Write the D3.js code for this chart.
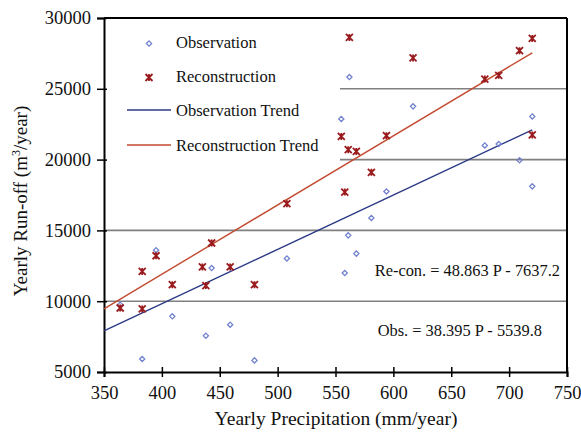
<!DOCTYPE html>
<html>
<head>
<meta charset="utf-8">
<script src="https://cdn.jsdelivr.net/npm/d3@7"></script>
<style>
  body { margin: 0; background: #fff; }
</style>
</head>
<body>
<div id="chart"></div>
<script>
// observed yearly run-off vs precipitation
const obsP = [364, 383, 395, 409, 438, 443, 459, 480, 508, 555, 558, 561, 562, 568, 581, 594, 617, 679, 691, 709, 720, 720]
const obsR = [9750, 5920, 13600, 8930, 7560, 12340, 8340, 5820, 13020, 22870, 11990, 14650, 25830, 13360, 15880, 17750, 23760, 21000, 21100, 19950, 23050, 18110]

// reconstructed run-off
const recP = [364, 383, 383, 395, 409, 435, 438, 443, 459, 480, 508, 555, 558, 561, 562, 568, 581, 594, 617, 679, 691, 709, 720, 720]
const recR = [9520, 9450, 12100, 13210, 11170, 12420, 11100, 14110, 12420, 11170, 16890, 21640, 17710, 20700, 28630, 20580, 19100, 21690, 27180, 25690, 25950, 27690, 28560, 21740]

// trend lines: slope, intercept, x range
const obsTrend = {slope: 38.395, intercept: -5539.8, from: 350, to: 720}
const recTrend = {slope: 48.863, intercept: -7637.2, from: 350, to: 720}

const xTicks = [350, 400, 450, 500, 550, 600, 650, 700, 750]
const yTicks = [5000, 10000, 15000, 20000, 25000, 30000]
const gridValues = [10000, 15000, 20000, 25000]

const legendLabels = ["Observation", "Reconstruction", "Observation Trend", "Reconstruction Trend"]

const FONT = "'Liberation Serif', 'Times New Roman', Times, 'DejaVu Serif', serif"
const blueMark = "#7283cf"
const redMark = "#9a1b1e"
const blueLine = "#2b3a85"
const redLine = "#c24a30"

const margin = {top: 18, right: 14, bottom: 63, left: 104}
const W = 581, H = 435
const width = W - margin.left - margin.right
const height = H - margin.top - margin.bottom

const svg = d3.select("#chart").append("svg")
    .attr("width", W)
    .attr("height", H)
    .style("font-family", FONT)

const g = svg.append("g")
    .attr("transform", "translate(" + margin.left + "," + margin.top + ")")

const x = d3.scaleLinear().domain([350, 750]).range([0, width])
const y = d3.scaleLinear().domain([5000, 30000]).range([height, 0])

// grid
g.selectAll(".grid")
    .data(gridValues)
    .enter()
    .append("line")
    .attr("class", "grid")
    .attr("x1", 0)
    .attr("x2", width)
    .attr("y1", d => y(d))
    .attr("y2", d => y(d))
    .attr("stroke", "#808080")
    .attr("stroke-width", 1.6)

// legend box hides grid behind it
g.append("rect")
    .attr("x", 1)
    .attr("y", 1)
    .attr("width", 235)
    .attr("height", 144)
    .attr("fill", "#fff")

// frame top/right
g.append("line").attr("x1", 0).attr("x2", width).attr("y1", 0).attr("y2", 0)
    .attr("stroke", "#000").attr("stroke-width", 2)
g.append("line").attr("x1", width).attr("x2", width).attr("y1", 0).attr("y2", height)
    .attr("stroke", "#000").attr("stroke-width", 2)

// axes
const xAxis = d3.axisBottom(x).tickValues(xTicks).tickSize(5).tickPadding(9).tickFormat(d3.format("d"))
const yAxis = d3.axisLeft(y).tickValues(yTicks).tickSize(7).tickPadding(6).tickFormat(d3.format("d"))

const xg = g.append("g")
    .attr("transform", `translate(0, ${height})`)
    .call(xAxis)
xg.selectAll(".tick line").attr("y1", -5).attr("stroke-width", 1.5)
xg.select(".domain").attr("stroke-width", 2)

const yg = g.append("g").call(yAxis)
yg.selectAll(".tick line").attr("x1", 3).attr("stroke-width", 1.5)
yg.select(".domain").attr("stroke-width", 2)

svg.selectAll(".tick text")
    .attr("font-size", 18.5)
    .style("font-family", FONT)
    .attr("fill", "#111")
xg.attr("font-family", null)
yg.attr("font-family", null)

// trend lines
function trendPts(t) {
    return [t.from, t.to].map(p => [x(p), y(t.slope * p + t.intercept)])
}
const line = d3.line()
g.append("path").attr("d", line(trendPts(obsTrend)))
    .attr("stroke", blueLine).attr("stroke-width", 1.4).attr("fill", "none")
g.append("path").attr("d", line(trendPts(recTrend)))
    .attr("stroke", redLine).attr("stroke-width", 1.4).attr("fill", "none")

// markers
function diamond(sel) {
    sel.append("path")
        .attr("d", "M0,-2.6L2.6,0L0,2.6L-2.6,0Z")
        .attr("fill", "none")
        .attr("stroke", blueMark)
        .attr("stroke-width", 1.3)
}
function star(sel) {
    sel.append("path")
        .attr("d", "M-3.5,-3.5L3.5,3.5M-3.5,3.5L3.5,-3.5M0,-3.5L0,3.5")
        .attr("stroke", redMark)
        .attr("stroke-width", 1.8)
}

const obsData = obsP.map((p, i) => ({p: p, r: obsR[i]}))
const recData = recP.map((p, i) => ({p: p, r: recR[i]}))

g.selectAll(".obs")
    .data(obsData)
    .enter()
    .append("g")
    .attr("class", "obs")
    .attr("transform", d => `translate(${x(d.p)},${y(d.r)})`)
    .call(diamond)

g.selectAll(".rec")
    .data(recData)
    .enter()
    .append("g")
    .attr("class", "rec")
    .attr("transform", d => `translate(${x(d.p)},${y(d.r)})`)
    .call(star)

// legend
const symY = [25.5, 59.5, 92, 127]
const textY = [30, 64, 98, 133]
const leg = g.selectAll(".leg")
    .data(legendLabels)
    .enter()
    .append("g")
    .attr("class", "leg")
leg.append("text")
    .attr("x", 72)
    .attr("y", (d, i) => textY[i])
    .attr("font-size", 16.5)
    .attr("fill", "#111")
    .text(d => d)

leg.filter((d, i) => i == 0).append("g").attr("transform", `translate(45,${symY[0]})`).call(diamond)
leg.filter((d, i) => i == 1).append("g").attr("transform", `translate(45,${symY[1]})`).call(star)
leg.filter((d, i) => i == 2).append("line")
    .attr("x1", 23).attr("x2", 67).attr("y1", symY[2]).attr("y2", symY[2])
    .attr("stroke", blueLine).attr("stroke-width", 1.4)
leg.filter((d, i) => i == 3).append("line")
    .attr("x1", 23).attr("x2", 67).attr("y1", symY[3]).attr("y2", symY[3])
    .attr("stroke", redLine).attr("stroke-width", 1.4)

// equations
g.append("text")
    .attr("x", 456)
    .attr("y", 258)
    .attr("text-anchor", "end")
    .attr("font-size", 16.4)
    .attr("fill", "#111")
    .text("Re-con. = 48.863 P - 7637.2")
g.append("text")
    .attr("x", 438)
    .attr("y", 318)
    .attr("text-anchor", "end")
    .attr("font-size", 16.4)
    .attr("fill", "#111")
    .text("Obs. = 38.395 P - 5539.8")

// axis titles
svg.append("text")
    .attr("x", 336)
    .attr("y", 425)
    .attr("text-anchor", "middle")
    .attr("font-size", 19.5)
    .attr("fill", "#111")
    .text("Yearly Precipitation (mm/year)")

const yt = svg.append("text")
    .attr("transform", "translate(27,201) rotate(-90)")
    .attr("text-anchor", "middle")
    .attr("font-size", 19)
    .attr("fill", "#111")
yt.append("tspan").text("Yearly Run-off (m")
yt.append("tspan").attr("baseline-shift", "super").attr("font-size", 12).text("3")
yt.append("tspan").text("/year)")
</script>
</body>
</html>
